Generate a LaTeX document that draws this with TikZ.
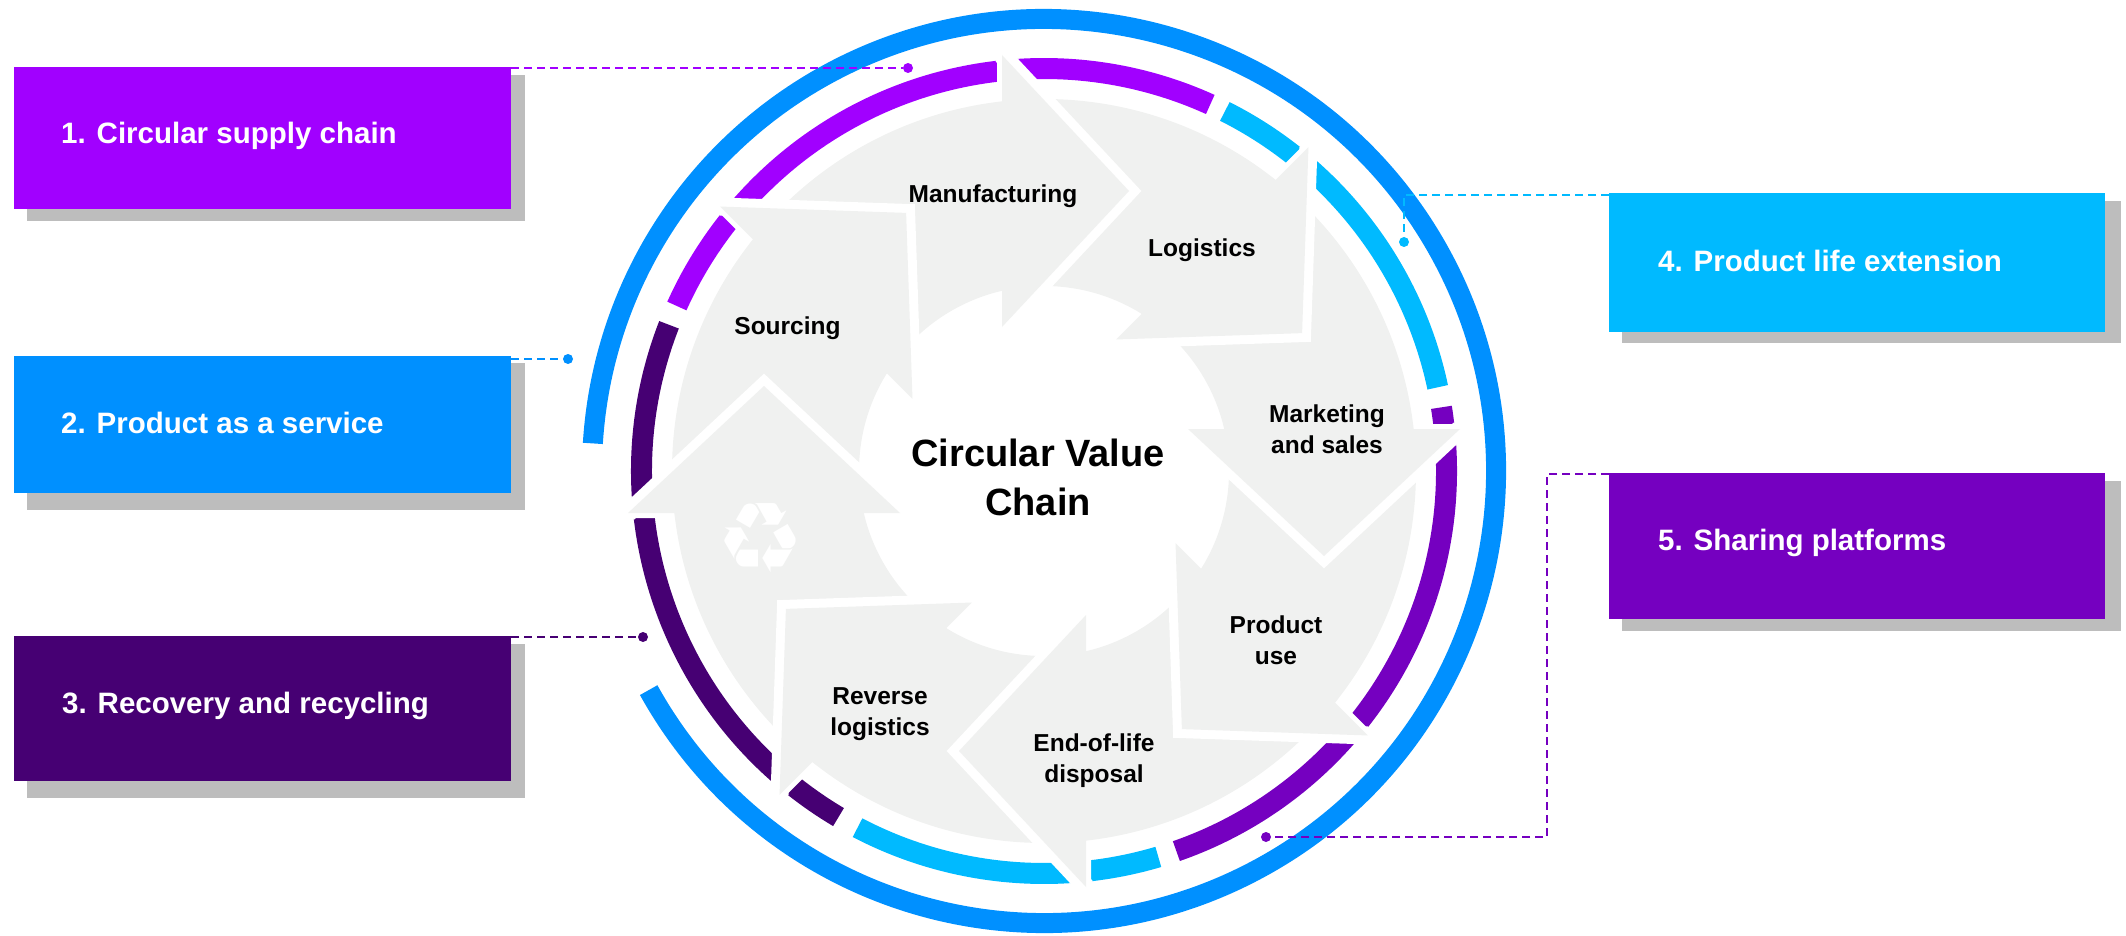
\documentclass[tikz,border=0pt]{standalone}
\usepackage{fontspec}
\setmainfont{Liberation Sans}
\newfontfamily\symfont{DejaVu Sans}
\definecolor{cpA}{HTML}{A100FF}
\definecolor{cbB}{HTML}{0090FF}
\definecolor{cpC}{HTML}{460073}
\definecolor{cbD}{HTML}{00BAFF}
\definecolor{cpE}{HTML}{7500C0}
\definecolor{cgray}{HTML}{F0F1F0}
\definecolor{cshadow}{HTML}{BDBDBD}
\begin{document}
\begin{tikzpicture}[x=1pt,y=1pt,
  boxst/.style={rectangle, inner sep=0pt, outer sep=0pt, anchor=north west, draw=none},
  shadowst/.style={fill=cshadow},
  boxlbl/.style={anchor=base west, text=white, font=\fontsize{29.5}{35}\selectfont\bfseries, inner sep=0pt},
  lbl/.style={align=center, font=\fontsize{24.5}{31}\selectfont\bfseries, inner sep=0pt, anchor=base},
  titlest/.style={align=center, font=\fontsize{38}{49}\selectfont\bfseries, inner sep=0pt, anchor=base},
  conn/.style={line width=2.6pt, dash pattern=on 8pt off 5pt},
  dotst/.style={circle, inner sep=0pt, outer sep=0pt, minimum size=10pt},
  ringst/.style={line width=21pt},
  piece/.style={shift={(1044,-471)}, rotate={-45*#1}},
]
\useasboundingbox (0,0) rectangle (2126,-936);
\coordinate (C) at (1044,-471);

% outer blue ring
\draw[cbB, line width=20pt] (C) ++(-151:452) arc[start angle=-151, end angle=176.5, radius=452];

% inner segmented ring
\draw[cpA, ringst] (C) ++(65.6:402.5) arc[start angle=65.6, end angle=155.8, radius=402.5];
\draw[cbD, ringst] (C) ++(12:402.5) arc[start angle=12, end angle=63.3, radius=402.5];
\draw[cpE, ringst] (C) ++(-70.8:402.5) arc[start angle=-70.8, end angle=9.1, radius=402.5];
\draw[cbD, ringst] (C) ++(-117.6:402.5) arc[start angle=-117.6, end angle=-73.5, radius=402.5];
\draw[cpC, ringst] (C) ++(158.7:402.5) arc[start angle=158.7, end angle=239.3, radius=402.5];

% cut the ring around the arrow heads
\foreach \k in {0,...,7}
  \draw[white, line width=10pt, piece=\k] (-42,416) -- (85,280) -- (-42,144) -- cycle;

% grey annulus
\fill[cgray, even odd rule] (C) circle[radius=372] (C) circle[radius=185];

% white separators
\foreach \k in {0,...,7}
  \draw[white, line width=18pt, piece=\k] (-42,416) -- (85,280) -- (-42,144);

% arrow heads
\foreach \k in {0,...,7}
  \fill[cgray, piece=\k] (-42,416) -- (85,280) -- (-42,144) -- cycle;

% labels in the wheel (base = baseline of last line)
\node[lbl] (tM) at (993,-203) {Manufacturing};
\node[lbl] (tL) at (1202,-257) {Logistics};
\node[lbl] (tMk) at (1327,-453) {Marketing\\and sales};
\node[lbl] (tP) at (1276,-664) {Product\\use};
\node[lbl] (tE) at (1094,-782) {End-of-life\\disposal};
\node[lbl] (tR) at (880,-735) {Reverse\\logistics};
\node[lbl] (tS) at (787.5,-334) {Sourcing};
\node[titlest] (title) at (1038,-515) {Circular Value\\Chain};
\node[text=white, inner sep=0pt, font=\symfont\fontsize{98}{98}\selectfont] (rc) at (760,-538) {♻};

% shadows
\fill[shadowst] (27,-75) rectangle (525,-221);
\fill[shadowst] (27,-363) rectangle (525,-510);
\fill[shadowst] (27,-644) rectangle (525,-798);
\fill[shadowst] (1622,-201) rectangle (2121,-343);
\fill[shadowst] (1622,-481) rectangle (2121,-631);

% boxes
\node[boxst, fill=cpA, minimum width=497pt, minimum height=142pt] (b1) at (14,-67) {};
\node[boxst, fill=cbB, minimum width=497pt, minimum height=137pt] (b2) at (14,-356) {};
\node[boxst, fill=cpC, minimum width=497pt, minimum height=145pt] (b3) at (14,-636) {};
\node[boxst, fill=cbD, minimum width=496pt, minimum height=139pt] (b4) at (1609,-193) {};
\node[boxst, fill=cpE, minimum width=496pt, minimum height=146pt] (b5) at (1609,-473) {};

\node[boxlbl] (l1) at (61,-144) {1. Circular supply chain};
\node[boxlbl] (l2) at (61,-433) {2. Product as a service};
\node[boxlbl] (l3) at (62,-713) {3. Recovery and recycling};
\node[boxlbl] (l4) at (1658,-271) {4. Product life extension};
\node[boxlbl] (l5) at (1658,-550) {5. Sharing platforms};

% connectors
\node[dotst, fill=cpA] (d1) at (908,-68) {};
\node[dotst, fill=cbB] (d2) at (568,-359) {};
\node[dotst, fill=cpC] (d3) at (643,-637) {};
\node[dotst, fill=cbD] (d4) at (1404,-242) {};
\node[dotst, fill=cpE] (d5) at (1266,-837) {};
\coordinate (k5) at (1547,-837);

\draw[conn, cpA] (b1.north east |- d1) -- (d1);
\draw[conn, cbB] (b2.north east |- d2) -- (d2);
\draw[conn, cpC] (b3.north east |- d3) -- (d3);
\draw[conn, cbD] ([yshift=-2pt]b4.north west) -- ([yshift=-2pt]b4.north west -| d4) -- (d4);
\draw[conn, cpE] ([yshift=-1pt]b5.north west) -- ([yshift=-1pt]b5.north west -| k5) -- (k5) -- (d5);
\end{tikzpicture}
\end{document}
